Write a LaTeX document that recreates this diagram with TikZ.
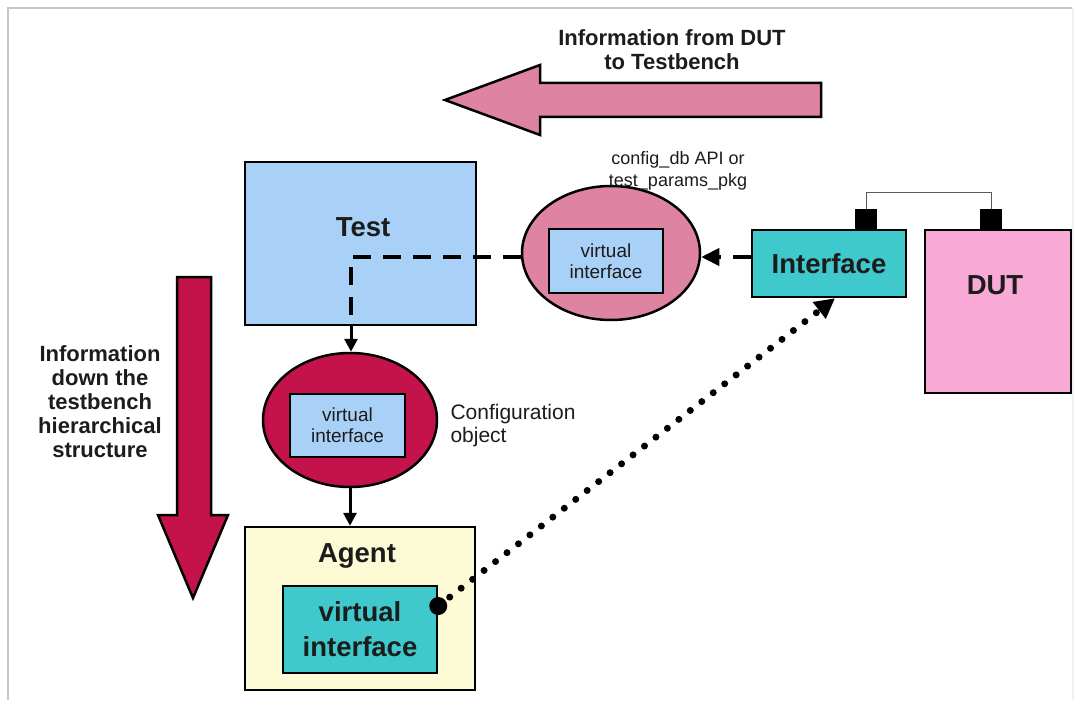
\documentclass[tikz,border=0pt]{standalone}
\usepackage{fontspec}
\setmainfont{Liberation Sans}
\usepackage{xcolor}
\usepackage{tikz}
\usetikzlibrary{shapes.geometric, arrows.meta, positioning}

\definecolor{testblue}{HTML}{A9D1F7}
\definecolor{ifcyan}{HTML}{40C9CC}
\definecolor{dbpink}{HTML}{DE84A2}
\definecolor{objred}{HTML}{C4124B}
\definecolor{dutpink}{HTML}{F8A9D6}
\definecolor{agentyellow}{HTML}{FCFBD6}
\definecolor{inkgray}{HTML}{1C1C1C}

\begin{document}
\begin{tikzpicture}[
    x=1pt, y=-1pt,
    block/.style={draw, line width=2.5pt, inner sep=0pt},
    oval/.style={ellipse, draw, line width=2.5pt, inner sep=0pt},
    vif/.style={draw, line width=2.5pt, fill=testblue, inner sep=0pt, minimum width=114pt, minimum height=64pt, align=center, text=inkgray, font=\fontsize{19}{21}\selectfont},
    heading/.style={font=\fontsize{27.5}{35}\selectfont\bfseries, text=inkgray},
    note/.style={font=\fontsize{22}{24}\selectfont\bfseries, align=center, text=inkgray},
    arrow/.style={line width=3pt, -{Triangle[length=13pt,width=13pt]}},
    dasharrow/.style={line width=4pt, dash pattern=on 18pt off 12pt},
    dotarrow/.style={line width=7pt, line cap=round, dash pattern=on 0pt off 14.5pt},
    bigarrow/.style={draw, line width=2.5pt, line join=miter}
]
\useasboundingbox (0,0) rectangle (1078,703);

% frame
\draw[gray!45, line width=1.5pt] (8,700) -- (8,8) -- (1072,8);
\draw[gray!12, line width=1.5pt] (1073,8) -- (1073,700);

% direction arrows
\draw[bigarrow, fill=dbpink] (821,83) -- (821,117) -- (540,117) -- (540,135) -- (445,100) -- (540,65) -- (540,83) -- cycle;
\draw[bigarrow, fill=objred] (177,277) -- (211,277) -- (211,515) -- (228,515) -- (193,598) -- (158,515) -- (177,515) -- cycle;
\node[note] (toplbl) at (672,50) {Information from DUT\\to Testbench};
\node[note] (leftlbl) at (100,402) {Information\\down the\\testbench\\hierarchical\\structure};

% test
\node[block, fill=testblue, minimum width=231pt, minimum height=163pt] (test) at (360.5,243.5) {};
\node[heading] (testlbl) at (363,227) {Test};

% interface and DUT
\node[block, fill=ifcyan, minimum width=154pt, minimum height=67pt, heading] (intf) at (829,263.5) {Interface};
\node[block, fill=dutpink, minimum width=146pt, minimum height=163pt] (dut) at (998,311.5) {};
\node[heading] (dutlbl) at (995,285) {DUT};
\node[fill=black, minimum size=22pt, inner sep=0pt, anchor=south] (pinA) at (866,231) {};
\node[fill=black, minimum size=22pt, inner sep=0pt, anchor=south] (pinB) at (991,231) {};
\draw[line width=1pt, gray!70!black] (pinA.north) -- ++(0,-16) -| (pinB.north);

% config_db
\node[oval, fill=dbpink, minimum width=178pt, minimum height=134pt] (cfgdb) at (611,253) {};
\node[vif] (vifdb) at (606,261) {virtual\\interface};
\node[font=\fontsize{18}{22}\selectfont, align=center, text=inkgray] (dblbl) at (678,171) {config\_db API or\\test\_params\_pkg};

% configuration object
\node[oval, fill=objred, minimum width=174pt, minimum height=134pt] (cfgobj) at (350,420) {};
\node[vif, minimum width=115pt, minimum height=63pt] (vifobj) at (347.5,425.5) {virtual\\interface};
\node[anchor=west, align=left, font=\fontsize{21}{23}\selectfont, text=inkgray] (objlbl) at (447,426) {Configuration\\object};

% agent
\node[block, fill=agentyellow, minimum width=230pt, minimum height=163pt] (agent) at (360,608.5) {};
\node[heading] (agentlbl) at (357,556) {Agent};
\node[block, fill=ifcyan, minimum width=154pt, minimum height=87pt, heading, align=center] (vifagent) at (360,629.5) {virtual\\interface};

% connections
\coordinate (tcorner) at (351,257);
\draw[dasharrow] (cfgdb.west |- tcorner) -- (tcorner) -- (tcorner |- test.south);
\draw[arrow] (tcorner |- test.south) -- (cfgobj.north -| tcorner);
\draw[dasharrow, -{Triangle[length=18pt,width=17pt]}] (intf.west |- tcorner) -- (cfgdb.east |- tcorner);
\draw[arrow] (cfgobj.south) -- (cfgobj.south |- agent.north);

\coordinate (plug) at ([yshift=23.5pt]vifagent.east);
\draw[dotarrow, -{Triangle[length=20pt,width=20pt]}] (plug) -- ([xshift=6pt]intf.south);
\fill (plug) circle (9pt);
\end{tikzpicture}
\end{document}
